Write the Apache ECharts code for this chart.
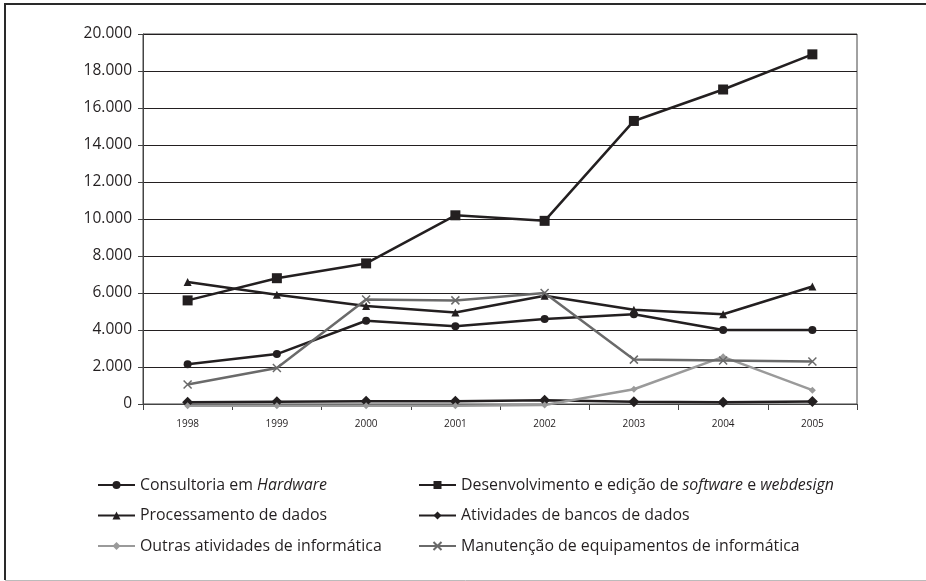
<!DOCTYPE html>
<html><head><meta charset="utf-8">
<script src="https://cdn.jsdelivr.net/npm/echarts@6/dist/echarts.min.js"></script>
<style>html,body{margin:0;padding:0;background:#fff}#c{width:926px;height:581px}</style>
</head><body><div id="c"></div>
<script>
const years = ['1998','1999','2000','2001','2002','2003','2004','2005'];
const yTicks = [0,2000,4000,6000,8000,10000,12000,14000,16000,18000,20000];
const consultoria = [2150,2700,4500,4200,4600,4850,4000,4000];
const desenvolvimento = [5600,6800,7600,10200,9900,15300,17000,18900];
const processamento = [6600,5900,5300,4950,5850,5100,4850,6350];
const bancos = [100,120,150,150,200,120,100,130];
const outras = [-100,-100,-100,-100,-50,800,2550,750];
const manutencao = [1050,1950,5650,5600,6000,2400,2350,2300];

const names = ['Consultoria em Hardware','Desenvolvimento e edição de software e webdesign','Processamento de dados','Atividades de bancos de dados','Outras atividades de informática','Manutenção de equipamentos de informática'];
const dark = '#231f20';
const font = '"Open Sans", "Noto Sans", sans-serif';

function fmtNum(v){ return String(v).replace(/\B(?=(\d{3})+(?!\d))/g,'.'); }

function ser(name, data, color, symbol, size, extra){
  return Object.assign({name, type:'line', data, symbol, symbolSize:size, clip:false,
    lineStyle:{color, width:2.5}, itemStyle:{color}, emphasis:{disabled:true}}, extra||{});
}

const LF = 15.9;
const legendRich = {
  n:{fontFamily:font, fontSize:LF, color:dark, lineHeight:18},
  i:{fontFamily:font, fontSize:LF, color:dark, fontStyle:'italic', lineHeight:18}
};
function legendFmt(name){
  if(name===names[0]) return '{n|Consultoria em }{i|Hardware}';
  if(name===names[1]) return '{n|Desenvolvimento e edição de }{i|software}{n| e }{i|webdesign}';
  return '{n|'+name+'}';
}
const legendBase = {orient:'vertical', itemWidth:37, itemHeight:10, itemGap:12.5,
  textStyle:{rich:legendRich, fontFamily:font, fontSize:LF, color:dark, lineHeight:18},
  formatter:legendFmt, selectedMode:false, padding:0};

const chart = echarts.init(document.getElementById('c'));
chart.setOption({
  animation:false,
  backgroundColor:'#fff',
  graphic:[
    {type:'line', shape:{x1:4,y1:4,x2:926,y2:4}, style:{stroke:'#2a2a2a', lineWidth:2}},
    {type:'line', shape:{x1:5,y1:4,x2:5,y2:580}, style:{stroke:'#2a2a2a', lineWidth:2}},
    {type:'line', shape:{x1:5,y1:580.5,x2:926,y2:580.5}, style:{stroke:'#bbbbbb', lineWidth:1}}
  ],
  grid:{left:143, right:69, top:34, bottom:177, show:true, borderColor:'#444', borderWidth:1},
  xAxis:{type:'category', data:years, boundaryGap:true,
    axisLine:{lineStyle:{color:'#444', width:1}},
    axisTick:{show:true, length:6, lineStyle:{color:'#444'}},
    axisLabel:{fontFamily:font, fontSize:10, color:dark, margin:15}},
  yAxis:{type:'value', min:0, max:20000, interval:2000,
    axisLine:{show:true, lineStyle:{color:'#444'}},
    axisTick:{show:true, length:5, lineStyle:{color:'#444'}},
    axisLabel:{fontFamily:font, fontSize:15.5, color:dark, margin:11, formatter:fmtNum},
    splitLine:{lineStyle:{color:dark, width:1}}},
  legend:[
    Object.assign({left:97, top:476, data:[names[0],names[2],names[4]]}, legendBase),
    Object.assign({left:418, top:476, data:[names[1],names[3],names[5]]}, legendBase)
  ],
  series:[
    ser(names[0], consultoria, dark, 'circle', 8),
    ser(names[1], desenvolvimento, dark, 'rect', 10),
    ser(names[2], processamento, dark, 'triangle', 8),
    ser(names[3], bancos, dark, 'diamond', 11),
    ser(names[4], outras, '#9a9a9a', 'diamond', 7),
    ser(names[5], manutencao, '#6a6a6a', 'path://M0,0L10,10M10,0L0,10', 8,
      {itemStyle:{color:'#6a6a6a', borderColor:'#6a6a6a', borderWidth:1.5}})
  ]
});
</script></body></html>
